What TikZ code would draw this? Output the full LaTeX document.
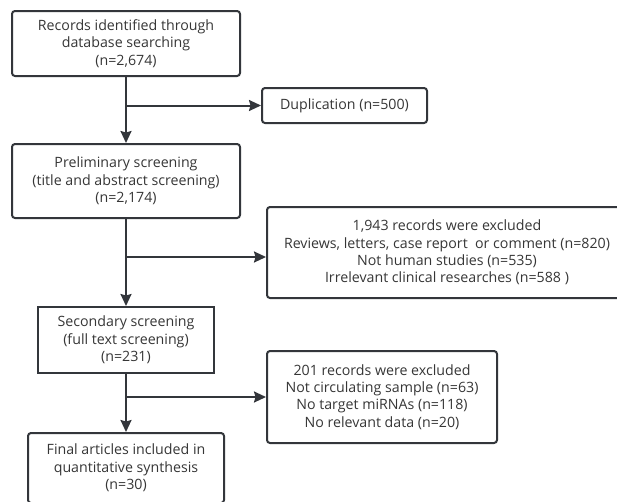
\documentclass[tikz,border=0pt]{standalone}
\usepackage{fontspec}
\setmainfont{Open Sans}
\usetikzlibrary{arrows.meta}
\definecolor{linegray}{HTML}{33363B}
\definecolor{textgray}{HTML}{363636}
\begin{document}
\begin{tikzpicture}[x=1pt, y=-1pt, >={Stealth[length=12pt,width=11pt,inset=1.5pt]},
  box/.style={draw=linegray, line width=2pt, rounded corners=3pt, align=center,
    text=textgray, inner sep=0pt, font=\fontsize{14.2}{17.4}\selectfont},
  flow/.style={->, draw=linegray, line width=2pt}]
\useasboundingbox (0,0) rectangle (617,501);
\clip (0,0) rectangle (617,501);
% main column
\node[box, minimum width=228, minimum height=65] (records) at (126,43.5)
  {Records identified through\\database searching\\(n=2,674)};
\node[box, minimum width=228, minimum height=74] (prelim) at (126,181)
  {Preliminary screening\\(title and abstract screening)\\(n=2,174)};
\node[box, rounded corners=0pt, minimum width=176, minimum height=66] (second) at (126,340)
  {Secondary screening\\(full text screening)\\(n=231)};
\node[box, minimum width=196, minimum height=70] (final) at (126,468)
  {Final articles included in\\quantitative synthesis\\(n=30)};
% side boxes
\node[box, minimum width=165, minimum height=35] (dupl) at (344.5,105.5)
  {Duplication (n=500)};
\node[box, minimum width=360, minimum height=91] (excl1) at (447,252.5)
  {1,943 records were excluded\\Reviews, letters, case report\ \ or comment (n=820)\\Not human studies (n=535)\\Irrelevant clinical researches (n=588 )};
\node[box, minimum width=230, minimum height=92] (excl2) at (382,397)
  {201 records were excluded\\Not circulating sample (n=63)\\No target miRNAs (n=118)\\No relevant data (n=20)};
% connectors
\draw[flow] (records) -- (prelim);
\draw[flow] (prelim) -- (second);
\draw[flow] (second) -- (final);
\draw[flow] (records.south |- dupl) -- (dupl);
\draw[flow] (prelim.south |- 0,257) -- (excl1.west |- 0,257);
\draw[flow] (second.south |- excl2) -- (excl2);
\end{tikzpicture}
\end{document}
